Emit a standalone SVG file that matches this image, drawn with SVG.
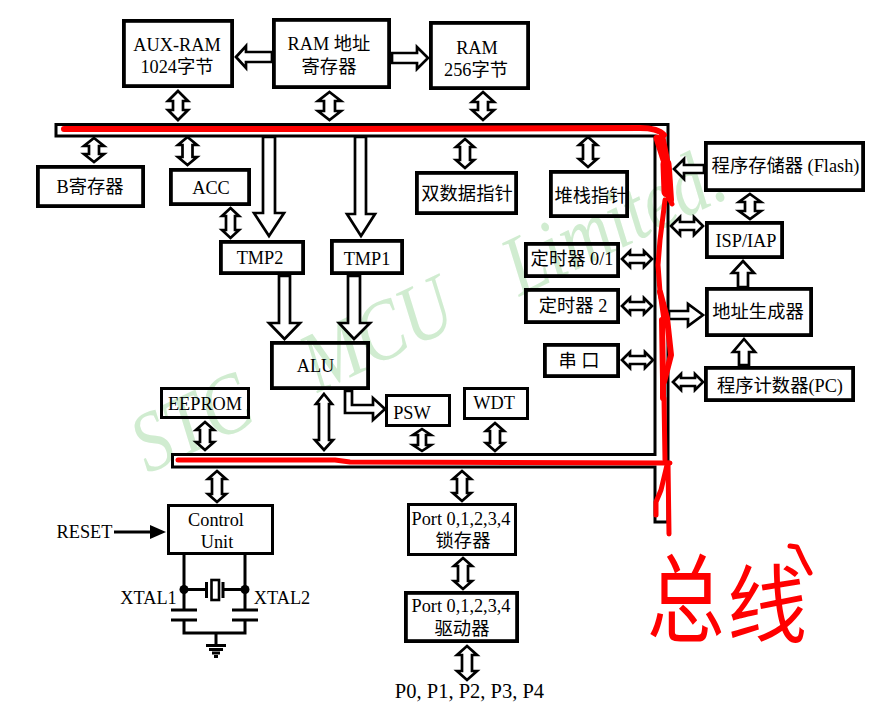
<svg xmlns="http://www.w3.org/2000/svg" width="883" height="706" viewBox="0 0 883 706">
<style>
text{font-family:"Liberation Serif","Noto Sans CJK SC",serif;font-size:18.300px;fill:#000;text-anchor:middle}
.box{fill:none;stroke:#000;stroke-width:3.800}
.arw{fill:#fff;stroke:#000;stroke-width:2.700;stroke-miterlimit:6}
.wire{fill:none;stroke:#000;stroke-width:3}
.red{fill:none;stroke:#f00;stroke-linecap:round;stroke-linejoin:round}
text.wm{font-style:italic;font-size:71px;fill:#d0ecd0;text-anchor:start;word-spacing:48px}
text.hand{font-family:"Noto Sans CJK SC",sans-serif;font-size:80px;fill:#f00;text-anchor:start}
text.big{font-size:20.500px}
</style>
<rect width="883" height="706" fill="#fff"/>
<text id="watermark" class="wm" transform="translate(148,474) rotate(-25.500) scale(1,1.2)">STC MCU Limited.</text>
<g id="connectors">
<path class="wire" d="M56,124.500H668V522H655V467H172.500V454.500H655V136H56Z"/>
<polygon class="arw" points="178,91 188,101 183,101 183,110 188,110 178,120 168,110 173,110 173,101 168,101"/>
<polygon class="arw" points="329.500,92 341,101 335,101 335,111 341,111 329.500,120 318,111 324,111 324,101 318,101"/>
<polygon class="arw" points="483,92 494,102 488,102 488,110 494,110 483,120 472,110 478,110 478,102 472,102"/>
<polygon class="arw" points="94,138 104,146 99,146 99,154 104,154 94,162 84,154 89,154 89,146 84,146"/>
<polygon class="arw" points="187.500,137 197,145 192.500,145 192.500,157 197,157 187.500,165 178,157 182.500,157 182.500,145 178,145"/>
<polygon class="arw" points="230.500,208 239,216 235,216 235,230 239,230 230.500,238 222,230 226,230 226,216 222,216"/>
<polygon class="arw" points="465,139 474,147 470,147 470,160 474,160 465,168 456,160 460,160 460,147 456,147"/>
<polygon class="arw" points="588,137 597,145 593,145 593,159 597,159 588,167 579,159 583,159 583,145 579,145"/>
<polygon class="arw" points="750,194 761,202 755,202 755,211 761,211 750,219 739,211 745,211 745,202 739,202"/>
<polygon class="arw" points="205,422 214,430 210,430 210,442 214,442 205,450 196,442 200,442 200,430 196,430"/>
<polygon class="arw" points="324,394 332,404 329,404 329,440 333,440 324,450 315,440 319,440 319,404 316,404"/>
<polygon class="arw" points="422,429 431,435 426,435 426,445 431,445 422,451 413,445 418,445 418,435 413,435"/>
<polygon class="arw" points="495,423 504,431 500,431 500,443 504,443 495,451 486,443 490,443 490,431 486,431"/>
<polygon class="arw" points="217,471 226,479 222,479 222,494 226,494 217,502 208,494 212,494 212,479 208,479"/>
<polygon class="arw" points="462,471 471,479 467,479 467,493 471,493 462,501 453,493 457,493 457,479 453,479"/>
<polygon class="arw" points="463,558 472,566 468,566 468,581 472,581 463,589 454,581 458,581 458,566 454,566"/>
<polygon class="arw" points="467,646 477,655 472,655 472,671 477,671 467,680 457,671 462,671 462,655 457,655"/>
<polygon class="arw" points="671,226 680,217 680,222 694,222 694,217 703,226 694,235 694,230 680,230 680,235"/>
<polygon class="arw" points="622,259 630,251 630,255 644,255 644,251 652,259 644,267 644,263 630,263 630,267"/>
<polygon class="arw" points="622,306 630,298 630,302 644,302 644,298 652,306 644,314 644,310 630,310 630,314"/>
<polygon class="arw" points="622,360 630,352 630,356 645,356 645,352 653,360 645,368 645,364 630,364 630,368"/>
<polygon class="arw" points="673,382 681,374 681,378 695,378 695,374 703,382 695,390 695,386 681,386 681,390"/>
<polygon class="arw" points="236,57 246,46 246,52 272,52 272,62 246,62 246,68"/>
<polygon class="arw" points="428,58 417,47 417,53 392,53 392,63 417,63 417,69"/>
<polygon class="arw" points="674,169 684,159 684,165 704,165 704,173 684,173 684,179"/>
<polygon class="arw" points="703,315 688,304 688,311 669,311 669,319 688,319 688,326"/>
<polygon class="arw" points="743,261 754,273 748,273 748,287 738,287 738,273 732,273"/>
<polygon class="arw" points="744,339 755,352 749,352 749,365 739,365 739,352 733,352"/>
<polygon class="arw" points="269,236 284,213 275,213 275,137 263,137 263,213 254,213"/>
<polygon class="arw" points="361,236 375,214 366,214 366,137 355,137 355,214 347,214"/>
<polygon class="arw" points="284.500,339 300,323 290,323 290,276 279,276 279,323 269,323"/>
<polygon class="arw" points="354,339 370,323 360,323 360,276 348,276 348,323 339,323"/>
<polygon class="arw" points="345,391 352,391 352,405 373,405 373,398 385,409 373,420 373,413 345,413"/>
<path class="wire" d="M114,532H152"/>
<polygon points="150,525 166,532 150,539" fill="#000"/>
</g>
<g id="aux-ram"><rect class="box" x="123.900" y="20.900" width="108.200" height="65.200"/><text x="177" y="51">AUX-RAM</text><text x="177" y="73">1024字节</text></g>
<g id="ram-addr"><rect class="box" x="273.900" y="19.900" width="115.200" height="67.200"/><text x="329" y="50">RAM 地址</text><text x="329" y="73">寄存器</text></g>
<g id="ram-256"><rect class="box" x="430.900" y="22.900" width="97.200" height="65.200"/><text x="477" y="54">RAM</text><text x="476" y="76">256字节</text></g>
<g id="b-reg"><rect class="box" x="37.900" y="166.900" width="105.200" height="39.200"/><text x="90" y="193">B寄存器</text></g>
<g id="acc"><rect class="box" x="170.900" y="169.900" width="78.200" height="34.200"/><text x="211" y="194">ACC</text></g>
<g id="tmp2"><rect class="box" x="220.900" y="241.900" width="82.200" height="31.200"/><text x="260" y="264">TMP2</text></g>
<g id="tmp1"><rect class="box" x="331.900" y="240.900" width="70.200" height="32.200"/><text x="367" y="265">TMP1</text></g>
<g id="alu"><rect class="box" x="271.900" y="342.900" width="96.200" height="45.200"/><text x="315.500" y="372">ALU</text></g>
<g id="dptr"><rect class="box" x="416.900" y="172.900" width="99.200" height="40.200"/><text x="467" y="200">双数据指针</text></g>
<g id="sp"><rect class="box" x="550.900" y="171.900" width="76.200" height="44.200"/><text x="591" y="202">堆栈指针</text></g>
<g id="timer01"><rect class="box" x="525.900" y="243.900" width="92.200" height="32.200"/><text x="572" y="265">定时器 0/1</text></g>
<g id="timer2"><rect class="box" x="525.900" y="289.900" width="92.200" height="32.200"/><text x="573" y="312">定时器 2</text></g>
<g id="uart"><rect class="box" x="544.900" y="344.900" width="73.200" height="31.200"/><text x="579" y="367">串 口</text></g>
<g id="flash"><rect class="box" x="705.900" y="142.900" width="157.200" height="47.200"/><text x="785.500" y="172">程序存储器 (Flash)</text></g>
<g id="isp-iap"><rect class="box" x="706.900" y="222.900" width="75.200" height="34.200"/><text x="746" y="247">ISP/IAP</text></g>
<g id="addr-gen"><rect class="box" x="706.900" y="288.900" width="104.200" height="46.200"/><text x="758" y="318">地址生成器</text></g>
<g id="pc"><rect class="box" x="705.900" y="367.900" width="147.200" height="32.200"/><text x="780" y="392">程序计数器(PC)</text></g>
<g id="eeprom"><rect class="box" x="161.500" y="388.500" width="87" height="29" style="stroke-width:3"/><text x="205" y="410">EEPROM</text></g>
<g id="psw"><rect class="box" x="386.500" y="395.500" width="63" height="30" style="stroke-width:3"/><text x="412" y="419">PSW</text></g>
<g id="wdt"><rect class="box" x="464.500" y="388.500" width="63" height="30" style="stroke-width:3"/><text x="494" y="409">WDT</text></g>
<g id="control"><rect class="box" x="168.500" y="505.500" width="104" height="48" style="stroke-width:3"/><text x="216" y="526">Control</text><text x="217" y="548">Unit</text></g>
<g id="port-latch"><rect class="box" x="408.500" y="504.500" width="107" height="50" style="stroke-width:3"/><text x="461" y="525">Port 0,1,2,3,4</text><text x="463" y="547">锁存器</text></g>
<g id="port-driver"><rect class="box" x="405.900" y="592.900" width="111.200" height="48.200"/><text x="461" y="612">Port 0,1,2,3,4</text><text x="462" y="635">驱动器</text></g>
<g id="reset"><text x="84.500" y="538">RESET</text></g>
<g id="oscillator">
<path class="wire" d="M184,555V610M245,555V610M184,589.500H205M224,589.500H245M206.500,582V598M223,582V598M184,620V633H245V620M216,633V645"/>
<rect x="211.500" y="580" width="7.500" height="20" fill="#fff" stroke="#000" stroke-width="2.600"/>
<circle cx="184" cy="589.500" r="4.500"/><circle cx="245" cy="589.500" r="4.500"/>
<path class="wire" d="M171,610H197M171,620H197M232,610H258M232,620H258M206,645.500H226M209,649.500H223M212,653H220M214,656.500H218"/>
<text x="148.500" y="604">XTAL1</text><text x="282" y="604">XTAL2</text>
</g>
<g id="ports-label"><text class="big" x="469.500" y="698">P0, P1, P2, P3, P4</text></g>
<g id="annotation">
<path class="red" stroke-width="6" d="M64,129H340L640,128Q658,128 664,135"/>
<path class="red" stroke-width="6" d="M662,135L669,170L671,200"/>
<path class="red" stroke-width="7" d="M657,138L664,160"/>
<path class="red" stroke-width="11" d="M666,164L667,192"/>
<path class="red" stroke-width="5" d="M668,196L672,204M665,200L660,240L658,265L660,292L664,320"/>
<path class="red" stroke-width="6" d="M660,292L667,318L671,355L664,382"/>
<path class="red" stroke-width="6" d="M662,320L663,380L663,398"/>
<path class="red" stroke-width="5" d="M664,398L665,460"/>
<path class="red" stroke-width="5" d="M178,460H335L350,462L670,463"/>
<path class="red" stroke-width="5" d="M667,465L661,490L656,502L656,515"/>
<path class="red" stroke-width="5" d="M668,463L669,534"/>
<text class="hand" transform="translate(647,634) scale(0.97,1.2)">总</text>
<text class="hand" transform="translate(727,636) scale(1,1.07)">线</text>
<path class="red" stroke-width="5" d="M790,546L797,547L804,562L810,573"/>
</g>
</svg>
